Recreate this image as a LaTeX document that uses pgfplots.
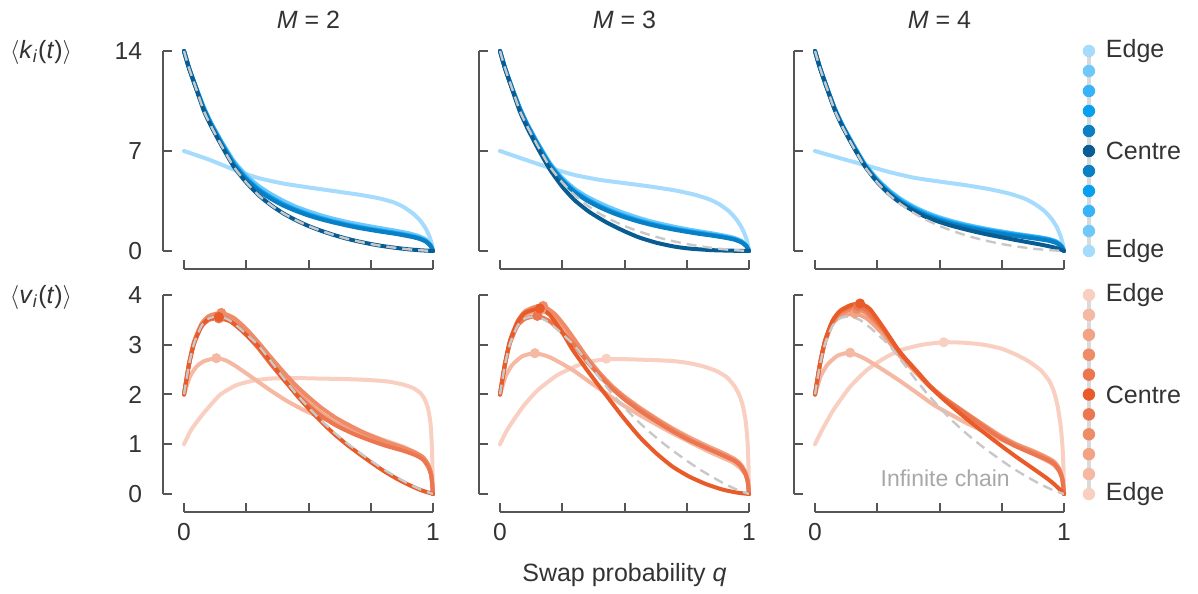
\documentclass[border=0pt]{standalone}
\usepackage{pgfplots}
\pgfplotsset{compat=1.18}
\usepackage{fontspec}
\setmainfont{Liberation Sans}
\definecolor{b0}{HTML}{A5DBFC}
\definecolor{b1}{HTML}{6EC8FB}
\definecolor{b2}{HTML}{38B2F8}
\definecolor{b3}{HTML}{05A0F2}
\definecolor{b4}{HTML}{0A7FC4}
\definecolor{b5}{HTML}{075C94}
\definecolor{o0}{HTML}{F8CFC0}
\definecolor{o1}{HTML}{F5B8A2}
\definecolor{o2}{HTML}{F2A285}
\definecolor{o3}{HTML}{EF8C68}
\definecolor{o4}{HTML}{EC7650}
\definecolor{o5}{HTML}{E95B28}
\definecolor{txt}{HTML}{333333}
\definecolor{spn}{HTML}{555555}
\definecolor{infc}{HTML}{C8C8C8}
\definecolor{lgl}{HTML}{DADADA}
\definecolor{ilab}{HTML}{A8A8A8}
\pgfplotsset{
 panel/.style={scale only axis, width=124.5pt, hide axis, xmin=0, xmax=1, clip=false, anchor=south west},
 ktop/.style={panel, height=100pt, ymin=0, ymax=14},
 vbot/.style={panel, height=99.5pt, ymin=0, ymax=4},
 cv/.style={line width=2pt, no markers, smooth, tension=0.35, line join=round, line cap=round},
 inf/.style={line width=1.2pt, no markers, color=infc, dash pattern=on 5pt off 3pt, smooth, tension=0.35},
 pk/.style={only marks, mark=*, mark size=2.3pt},
 lgd/.style={only marks, mark=*, mark size=2.9pt},
}
\tikzset{lab/.style={text=txt, font=\fontsize{12.5}{15}\selectfont},
 tl/.style={text=txt, font=\fontsize{12.3}{14}\selectfont}}
\begin{document}
\begin{tikzpicture}
\path (0,0) rectangle (599pt,296pt);
% spines and ticks
\foreach \ox in {92,250,407.5}{
 \draw[spn, line width=1pt] ({\ox pt-10.5pt},170.5pt) -- ({\ox pt-10.5pt},270.5pt);
 \foreach \ty in {0,50,100} \draw[spn, line width=1pt] ({\ox pt-10.5pt},{170.5pt+\ty pt}) -- ({\ox pt-6pt},{170.5pt+\ty pt});
 \draw[spn, line width=1pt] (\ox pt,161.5pt) -- ({\ox pt+124.5pt},161.5pt);
 \foreach \tx in {0,31.125,62.25,93.375,124.5} \draw[spn,line width=1pt] ({\ox pt+\tx pt},161.5pt) -- ({\ox pt+\tx pt},166pt);
 \draw[spn, line width=1pt] ({\ox pt-10.5pt},49pt) -- ({\ox pt-10.5pt},148.5pt);
 \foreach \ty in {0,24.875,49.75,74.625,99.5} \draw[spn, line width=1pt] ({\ox pt-10.5pt},{49pt+\ty pt}) -- ({\ox pt-6pt},{49pt+\ty pt});
 \draw[spn, line width=1pt] (\ox pt,40pt) -- ({\ox pt+124.5pt},40pt);
 \foreach \tx in {0,31.125,62.25,93.375,124.5} \draw[spn,line width=1pt] ({\ox pt+\tx pt},40pt) -- ({\ox pt+\tx pt},44.5pt);
}
% tick labels
\node[tl, anchor=east] at (74.5pt,170.5pt) {0};
\node[tl, anchor=east] at (74.5pt,220.5pt) {7};
\node[tl, anchor=east] at (74.5pt,270.5pt) {14};
\node[tl, anchor=east] at (74.5pt,49pt) {0};
\node[tl, anchor=east] at (74.5pt,73.875pt) {1};
\node[tl, anchor=east] at (74.5pt,98.75pt) {2};
\node[tl, anchor=east] at (74.5pt,123.625pt) {3};
\node[tl, anchor=east] at (74.5pt,148.5pt) {4};
\node[tl] at (92pt,30pt) {0};
\node[tl] at (216.5pt,30pt) {1};
\node[tl] at (250pt,30pt) {0};
\node[tl] at (374.5pt,30pt) {1};
\node[tl] at (407.5pt,30pt) {0};
\node[tl] at (532pt,30pt) {1};
% titles and labels
\node[lab] at (154.25pt,286pt) {\textit{M} = 2};
\node[lab] at (312.25pt,286pt) {\textit{M} = 3};
\node[lab] at (469.75pt,286pt) {\textit{M} = 4};
\node[lab] at (20.5pt,270pt) {$\langle$\textit{k}\textsubscript{\textit{i}}(\textit{t})$\rangle$};
\node[lab] at (20.5pt,147.5pt) {$\langle$\textit{v}\textsubscript{\textit{i}}(\textit{t})$\rangle$};
\node[lab] at (312.25pt,8.5pt) {Swap probability \textit{q}};

% ---------------- top M=2
\begin{axis}[ktop, at={(92pt,170.5pt)}]
\addplot[cv, b0] coordinates {(0,7.0) (0.1,6.4) (0.2,5.7) (0.3,5.1) (0.4,4.72) (0.5,4.45) (0.6,4.2) (0.7,3.95) (0.78,3.7) (0.84,3.42) (0.88,3.1) (0.92,2.62) (0.95,2.1) (0.97,1.6) (0.985,1.05) (0.995,0.5) (1,0)};
\addplot[cv, b1] coordinates {(0,14) (0.02,12.85) (0.05,11.4) (0.08,10.05) (0.11,8.95) (0.15,7.7) (0.2,6.3) (0.25,5.3) (0.3,4.55) (0.35,3.98) (0.4,3.5) (0.45,3.1) (0.5,2.78) (0.55,2.5) (0.6,2.26) (0.65,2.05) (0.7,1.88) (0.75,1.72) (0.8,1.57) (0.85,1.42) (0.9,1.25) (0.94,1.06) (0.97,0.82) (0.99,0.45) (1,0)};
\addplot[cv, b2] coordinates {(0,14) (0.02,12.83) (0.05,11.37) (0.08,10.0) (0.11,8.9) (0.15,7.62) (0.2,6.18) (0.25,5.14) (0.3,4.36) (0.35,3.78) (0.4,3.3) (0.45,2.92) (0.5,2.6) (0.55,2.33) (0.6,2.1) (0.65,1.9) (0.7,1.72) (0.75,1.56) (0.8,1.42) (0.85,1.28) (0.9,1.12) (0.94,0.95) (0.97,0.73) (0.99,0.4) (1,0)};
\addplot[cv, b3] coordinates {(0,14) (0.02,12.82) (0.05,11.35) (0.08,9.97) (0.11,8.86) (0.15,7.58) (0.2,6.12) (0.25,5.08) (0.3,4.3) (0.35,3.72) (0.4,3.25) (0.45,2.87) (0.5,2.55) (0.55,2.28) (0.6,2.05) (0.65,1.85) (0.7,1.67) (0.75,1.52) (0.8,1.38) (0.85,1.24) (0.9,1.08) (0.94,0.92) (0.97,0.7) (0.99,0.38) (1,0)};
\addplot[cv, b4] coordinates {(0,14) (0.02,12.81) (0.05,11.33) (0.08,9.93) (0.11,8.8) (0.15,7.52) (0.2,6.05) (0.25,5.0) (0.3,4.22) (0.35,3.64) (0.4,3.17) (0.45,2.8) (0.5,2.48) (0.55,2.22) (0.6,2.0) (0.65,1.8) (0.7,1.62) (0.75,1.47) (0.8,1.33) (0.85,1.2) (0.9,1.04) (0.94,0.88) (0.97,0.67) (0.99,0.36) (1,0)};
\addplot[cv, b5] coordinates {(0,14) (0.02,12.8) (0.05,11.3) (0.08,9.8) (0.11,8.7) (0.15,7.4) (0.2,5.9) (0.25,4.8) (0.3,3.9) (0.35,3.2) (0.4,2.62) (0.45,2.15) (0.5,1.75) (0.55,1.42) (0.6,1.13) (0.65,0.88) (0.7,0.67) (0.75,0.49) (0.8,0.34) (0.85,0.22) (0.9,0.12) (0.95,0.05) (1,0)};
\addplot[inf] coordinates {(0,14) (0.02,12.8) (0.05,11.3) (0.08,9.8) (0.11,8.7) (0.15,7.4) (0.2,5.9) (0.25,4.8) (0.3,3.9) (0.35,3.2) (0.4,2.62) (0.45,2.15) (0.5,1.75) (0.55,1.42) (0.6,1.13) (0.65,0.88) (0.7,0.67) (0.75,0.49) (0.8,0.34) (0.85,0.22) (0.9,0.12) (0.95,0.05) (1,0)};
\end{axis}

% ---------------- top M=3
\begin{axis}[ktop, at={(250pt,170.5pt)}]
\addplot[cv, b0] coordinates {(0,7.0) (0.1,6.4) (0.2,5.82) (0.3,5.32) (0.4,4.98) (0.5,4.75) (0.6,4.52) (0.7,4.25) (0.78,3.95) (0.84,3.62) (0.88,3.28) (0.92,2.78) (0.95,2.2) (0.97,1.65) (0.985,1.08) (0.995,0.5) (1,0)};
\addplot[cv, b1] coordinates {(0,14) (0.02,12.84) (0.05,11.38) (0.08,10.02) (0.11,8.9) (0.15,7.62) (0.2,6.18) (0.25,5.12) (0.3,4.35) (0.35,3.8) (0.4,3.36) (0.45,2.98) (0.5,2.65) (0.55,2.36) (0.6,2.1) (0.65,1.89) (0.7,1.7) (0.75,1.53) (0.8,1.38) (0.85,1.24) (0.9,1.08) (0.94,0.92) (0.97,0.7) (0.99,0.38) (1,0)};
\addplot[cv, b2] coordinates {(0,14) (0.02,12.83) (0.05,11.35) (0.08,9.98) (0.11,8.85) (0.15,7.56) (0.2,6.1) (0.25,5.02) (0.3,4.22) (0.35,3.64) (0.4,3.18) (0.45,2.8) (0.5,2.48) (0.55,2.2) (0.6,1.96) (0.65,1.76) (0.7,1.58) (0.75,1.43) (0.8,1.29) (0.85,1.16) (0.9,1.01) (0.94,0.86) (0.97,0.65) (0.99,0.35) (1,0)};
\addplot[cv, b3] coordinates {(0,14) (0.02,12.82) (0.05,11.33) (0.08,9.95) (0.11,8.82) (0.15,7.52) (0.2,6.05) (0.25,4.97) (0.3,4.17) (0.35,3.59) (0.4,3.13) (0.45,2.75) (0.5,2.43) (0.55,2.15) (0.6,1.92) (0.65,1.72) (0.7,1.54) (0.75,1.39) (0.8,1.25) (0.85,1.12) (0.9,0.98) (0.94,0.83) (0.97,0.63) (0.99,0.34) (1,0)};
\addplot[cv, b4] coordinates {(0,14) (0.02,12.81) (0.05,11.31) (0.08,9.92) (0.11,8.78) (0.15,7.47) (0.2,6.0) (0.25,4.91) (0.3,4.1) (0.35,3.52) (0.4,3.06) (0.45,2.68) (0.5,2.36) (0.55,2.09) (0.6,1.86) (0.65,1.66) (0.7,1.49) (0.75,1.34) (0.8,1.2) (0.85,1.08) (0.9,0.94) (0.94,0.8) (0.97,0.6) (0.99,0.32) (1,0)};
\addplot[cv, b5] coordinates {(0,14) (0.02,12.78) (0.05,11.25) (0.08,9.75) (0.11,8.6) (0.15,7.25) (0.2,5.72) (0.25,4.5) (0.3,3.55) (0.36,2.72) (0.43,1.98) (0.5,1.38) (0.56,0.94) (0.63,0.57) (0.7,0.31) (0.76,0.17) (0.85,0.06) (0.93,0.02) (1,0)};
\addplot[inf] coordinates {(0,14) (0.02,12.8) (0.05,11.3) (0.08,9.8) (0.11,8.7) (0.15,7.4) (0.2,5.9) (0.25,4.8) (0.3,3.9) (0.35,3.2) (0.4,2.62) (0.45,2.15) (0.5,1.75) (0.55,1.42) (0.6,1.13) (0.65,0.88) (0.7,0.67) (0.75,0.49) (0.8,0.34) (0.85,0.22) (0.9,0.12) (0.95,0.05) (1,0)};
\end{axis}

% ---------------- top M=4
\begin{axis}[ktop, at={(407.5pt,170.5pt)}]
\addplot[cv, b0] coordinates {(0,7.0) (0.1,6.5) (0.2,6.02) (0.3,5.52) (0.4,5.12) (0.5,4.86) (0.6,4.62) (0.7,4.33) (0.78,4.02) (0.84,3.68) (0.88,3.32) (0.92,2.82) (0.95,2.25) (0.97,1.7) (0.985,1.1) (0.995,0.5) (1,0)};
\addplot[cv, b1] coordinates {(0,14) (0.02,12.84) (0.05,11.36) (0.08,9.98) (0.11,8.86) (0.15,7.58) (0.2,6.12) (0.25,5.04) (0.3,4.22) (0.35,3.58) (0.4,3.08) (0.45,2.68) (0.5,2.36) (0.55,2.1) (0.6,1.88) (0.65,1.69) (0.7,1.52) (0.75,1.37) (0.8,1.23) (0.85,1.1) (0.9,0.97) (0.94,0.84) (0.97,0.66) (0.99,0.36) (1,0)};
\addplot[cv, b2] coordinates {(0,14) (0.02,12.83) (0.05,11.34) (0.08,9.95) (0.11,8.82) (0.15,7.54) (0.2,6.07) (0.25,4.98) (0.3,4.15) (0.35,3.5) (0.4,3.0) (0.45,2.6) (0.5,2.29) (0.55,2.03) (0.6,1.82) (0.65,1.63) (0.7,1.47) (0.75,1.32) (0.8,1.19) (0.85,1.07) (0.9,0.95) (0.94,0.82) (0.97,0.64) (0.99,0.35) (1,0)};
\addplot[cv, b3] coordinates {(0,14) (0.02,12.82) (0.05,11.32) (0.08,9.92) (0.11,8.79) (0.15,7.5) (0.2,6.02) (0.25,4.92) (0.3,4.08) (0.35,3.43) (0.4,2.93) (0.45,2.53) (0.5,2.22) (0.55,1.97) (0.6,1.76) (0.65,1.58) (0.7,1.42) (0.75,1.28) (0.8,1.15) (0.85,1.03) (0.9,0.91) (0.94,0.79) (0.97,0.62) (0.99,0.34) (1,0)};
\addplot[cv, b4] coordinates {(0,14) (0.02,12.81) (0.05,11.3) (0.08,9.88) (0.11,8.75) (0.15,7.45) (0.2,5.97) (0.25,4.86) (0.3,4.0) (0.35,3.35) (0.4,2.85) (0.45,2.45) (0.5,2.14) (0.55,1.89) (0.6,1.68) (0.65,1.5) (0.7,1.34) (0.75,1.2) (0.8,1.07) (0.85,0.95) (0.9,0.83) (0.94,0.71) (0.97,0.55) (0.99,0.3) (1,0)};
\addplot[cv, b5] coordinates {(0,14) (0.02,12.8) (0.05,11.3) (0.08,9.85) (0.11,8.72) (0.15,7.42) (0.2,5.94) (0.25,4.82) (0.3,3.95) (0.35,3.28) (0.4,2.76) (0.45,2.35) (0.5,2.03) (0.55,1.76) (0.6,1.53) (0.65,1.32) (0.7,1.13) (0.75,0.96) (0.8,0.79) (0.85,0.63) (0.9,0.47) (0.94,0.33) (0.97,0.2) (0.99,0.08) (1,0)};
\addplot[inf] coordinates {(0,14) (0.02,12.8) (0.05,11.3) (0.08,9.8) (0.11,8.7) (0.15,7.4) (0.2,5.9) (0.25,4.8) (0.3,3.9) (0.35,3.2) (0.4,2.62) (0.45,2.15) (0.5,1.75) (0.55,1.42) (0.6,1.13) (0.65,0.88) (0.7,0.67) (0.75,0.49) (0.8,0.34) (0.85,0.22) (0.9,0.12) (0.95,0.05) (1,0)};
% legend
\addplot[lgl, line width=2pt] coordinates {(1.1,0) (1.1,14)};
\addplot[lgd, b0] coordinates {(1.1,14) (1.1,0)};
\addplot[lgd, b1] coordinates {(1.1,12.6) (1.1,1.4)};
\addplot[lgd, b2] coordinates {(1.1,11.2) (1.1,2.8)};
\addplot[lgd, b3] coordinates {(1.1,9.8) (1.1,4.2)};
\addplot[lgd, b4] coordinates {(1.1,8.4) (1.1,5.6)};
\addplot[lgd, b5] coordinates {(1.1,7.0)};
\node[lab, anchor=west] at (axis cs:1.14,14) {Edge};
\node[lab, anchor=west] at (axis cs:1.14,7) {Centre};
\node[lab, anchor=west] at (axis cs:1.14,0) {Edge};
\end{axis}

% ---------------- bottom M=2
\begin{axis}[vbot, at={(92pt,49pt)}]
\addplot[cv, o0] coordinates {(0,1.0) (0.03,1.3) (0.078,1.62) (0.144,1.99) (0.211,2.19) (0.28,2.28) (0.345,2.32) (0.45,2.33) (0.545,2.32) (0.65,2.31) (0.746,2.29) (0.82,2.26) (0.88,2.2) (0.92,2.13) (0.947,2.04) (0.965,1.92) (0.98,1.72) (0.99,1.42) (0.996,0.9) (1,0)};
\addplot[cv, o1] coordinates {(0,2.0) (0.024,2.36) (0.05,2.56) (0.08,2.67) (0.13,2.73) (0.17,2.68) (0.211,2.56) (0.28,2.32) (0.345,2.09) (0.41,1.88) (0.48,1.69) (0.545,1.55) (0.61,1.42) (0.68,1.3) (0.746,1.19) (0.81,1.07) (0.88,0.95) (0.93,0.83) (0.96,0.72) (0.98,0.58) (0.993,0.38) (1,0)};
\addplot[cv, o2] coordinates {(0,2.0) (0.02,2.61) (0.04,3.04) (0.07,3.39) (0.1,3.53) (0.145,3.58) (0.19,3.5) (0.25,3.25) (0.3,2.97) (0.35,2.66) (0.4,2.36) (0.45,2.08) (0.5,1.84) (0.55,1.63) (0.61,1.43) (0.68,1.26) (0.746,1.12) (0.81,1.0) (0.88,0.89) (0.93,0.8) (0.96,0.71) (0.98,0.57) (0.993,0.38) (1,0)};
\addplot[cv, o3] coordinates {(0,2.0) (0.02,2.62) (0.04,3.06) (0.07,3.42) (0.1,3.58) (0.15,3.64) (0.2,3.54) (0.25,3.32) (0.3,3.04) (0.35,2.74) (0.4,2.45) (0.45,2.18) (0.5,1.95) (0.55,1.74) (0.61,1.53) (0.68,1.34) (0.746,1.18) (0.81,1.05) (0.88,0.93) (0.93,0.83) (0.96,0.74) (0.98,0.6) (0.993,0.4) (1,0)};
\addplot[cv, o4] coordinates {(0,2.0) (0.02,2.6) (0.04,3.02) (0.07,3.36) (0.1,3.5) (0.14,3.53) (0.19,3.46) (0.25,3.2) (0.3,2.92) (0.35,2.6) (0.4,2.3) (0.45,2.02) (0.5,1.78) (0.55,1.57) (0.61,1.38) (0.68,1.21) (0.746,1.08) (0.81,0.97) (0.88,0.87) (0.93,0.78) (0.96,0.69) (0.98,0.55) (0.993,0.37) (1,0)};
\addplot[cv, o5] coordinates {(0,2.0) (0.02,2.6) (0.04,3.02) (0.07,3.38) (0.1,3.52) (0.14,3.56) (0.18,3.49) (0.22,3.34) (0.26,3.15) (0.3,2.96) (0.35,2.64) (0.4,2.31) (0.45,2.0) (0.5,1.72) (0.55,1.46) (0.6,1.22) (0.65,1.01) (0.7,0.82) (0.75,0.64) (0.8,0.47) (0.85,0.32) (0.9,0.19) (0.95,0.08) (1,0)};
\addplot[inf] coordinates {(0,2.0) (0.02,2.6) (0.04,3.02) (0.07,3.38) (0.1,3.53) (0.14,3.57) (0.18,3.5) (0.22,3.35) (0.26,3.17) (0.3,2.98) (0.35,2.66) (0.4,2.33) (0.45,2.02) (0.5,1.74) (0.55,1.48) (0.6,1.25) (0.65,1.04) (0.7,0.85) (0.75,0.67) (0.8,0.5) (0.85,0.35) (0.9,0.21) (0.95,0.09) (1,0)};
\addplot[pk, o1] coordinates {(0.13,2.73)};
\addplot[pk, o2] coordinates {(0.145,3.58)};
\addplot[pk, o3] coordinates {(0.15,3.64)};
\addplot[pk, o4] coordinates {(0.14,3.53)};
\addplot[pk, o5] coordinates {(0.14,3.56)};
\end{axis}

% ---------------- bottom M=3
\begin{axis}[vbot, at={(250pt,49pt)}]
\addplot[cv, o0] coordinates {(0,1.0) (0.03,1.3) (0.093,1.76) (0.15,2.08) (0.227,2.38) (0.3,2.56) (0.36,2.66) (0.427,2.71) (0.5,2.71) (0.627,2.69) (0.7,2.67) (0.76,2.63) (0.82,2.56) (0.87,2.47) (0.91,2.35) (0.94,2.18) (0.96,2.0) (0.975,1.78) (0.987,1.45) (0.994,1.05) (0.998,0.55) (1,0)};
\addplot[cv, o1] coordinates {(0,2.0) (0.024,2.38) (0.05,2.6) (0.09,2.77) (0.14,2.83) (0.2,2.75) (0.293,2.49) (0.36,2.25) (0.427,2.02) (0.49,1.8) (0.56,1.59) (0.627,1.4) (0.693,1.22) (0.76,1.05) (0.827,0.88) (0.88,0.76) (0.933,0.64) (0.965,0.52) (0.987,0.38) (0.997,0.2) (1,0)};
\addplot[cv, o2] coordinates {(0,2.0) (0.02,2.61) (0.04,3.05) (0.07,3.43) (0.1,3.6) (0.14,3.68) (0.165,3.7) (0.22,3.55) (0.26,3.32) (0.3,3.06) (0.35,2.72) (0.4,2.43) (0.45,2.17) (0.5,1.96) (0.56,1.74) (0.627,1.52) (0.693,1.32) (0.76,1.14) (0.83,0.97) (0.893,0.83) (0.94,0.71) (0.965,0.61) (0.985,0.45) (0.995,0.27) (1,0)};
\addplot[cv, o3] coordinates {(0,2.0) (0.02,2.62) (0.04,3.07) (0.07,3.47) (0.1,3.67) (0.14,3.76) (0.173,3.78) (0.22,3.62) (0.26,3.38) (0.3,3.1) (0.35,2.74) (0.4,2.43) (0.45,2.16) (0.5,1.94) (0.56,1.72) (0.627,1.5) (0.693,1.29) (0.76,1.1) (0.83,0.93) (0.893,0.79) (0.94,0.68) (0.965,0.58) (0.985,0.42) (0.995,0.25) (1,0)};
\addplot[cv, o4] coordinates {(0,2.0) (0.02,2.6) (0.04,3.03) (0.07,3.38) (0.1,3.52) (0.15,3.58) (0.2,3.47) (0.26,3.2) (0.3,2.98) (0.35,2.66) (0.4,2.38) (0.45,2.12) (0.5,1.9) (0.56,1.68) (0.627,1.46) (0.693,1.26) (0.76,1.08) (0.83,0.92) (0.893,0.78) (0.94,0.67) (0.965,0.57) (0.985,0.41) (0.995,0.24) (1,0)};
\addplot[cv, o5] coordinates {(0,2.0) (0.02,2.62) (0.04,3.08) (0.07,3.45) (0.1,3.64) (0.16,3.73) (0.2,3.6) (0.25,3.25) (0.293,2.89) (0.36,2.42) (0.427,1.98) (0.493,1.55) (0.56,1.15) (0.627,0.82) (0.693,0.55) (0.76,0.35) (0.827,0.2) (0.893,0.09) (0.95,0.03) (1,0)};
\addplot[inf] coordinates {(0,2.0) (0.02,2.6) (0.04,3.02) (0.07,3.38) (0.1,3.53) (0.14,3.57) (0.18,3.5) (0.22,3.35) (0.26,3.17) (0.3,2.98) (0.35,2.66) (0.4,2.33) (0.45,2.02) (0.5,1.74) (0.55,1.48) (0.6,1.25) (0.65,1.04) (0.7,0.85) (0.75,0.67) (0.8,0.5) (0.85,0.35) (0.9,0.21) (0.95,0.09) (1,0)};
\addplot[pk, o0] coordinates {(0.427,2.72)};
\addplot[pk, o1] coordinates {(0.14,2.83)};
\addplot[pk, o2] coordinates {(0.165,3.7)};
\addplot[pk, o3] coordinates {(0.173,3.78)};
\addplot[pk, o4] coordinates {(0.15,3.58)};
\addplot[pk, o5] coordinates {(0.16,3.73)};
\end{axis}

% ---------------- bottom M=4
\begin{axis}[vbot, at={(407.5pt,49pt)}]
\addplot[cv, o0] coordinates {(0,1.0) (0.03,1.3) (0.074,1.69) (0.14,2.15) (0.208,2.49) (0.275,2.72) (0.342,2.89) (0.43,3.0) (0.517,3.05) (0.6,3.04) (0.678,3.0) (0.75,2.92) (0.812,2.79) (0.86,2.66) (0.906,2.49) (0.94,2.28) (0.96,2.05) (0.975,1.75) (0.987,1.35) (0.994,0.95) (0.998,0.5) (1,0)};
\addplot[cv, o1] coordinates {(0,2.0) (0.024,2.38) (0.05,2.6) (0.09,2.78) (0.141,2.84) (0.2,2.72) (0.275,2.49) (0.342,2.27) (0.41,2.03) (0.477,1.79) (0.544,1.6) (0.61,1.42) (0.678,1.26) (0.745,1.1) (0.812,0.95) (0.879,0.8) (0.93,0.67) (0.96,0.58) (0.98,0.46) (0.993,0.3) (1,0)};
\addplot[cv, o2] coordinates {(0,2.0) (0.02,2.6) (0.04,3.04) (0.07,3.42) (0.1,3.56) (0.16,3.63) (0.21,3.52) (0.275,3.2) (0.34,2.78) (0.409,2.42) (0.46,2.16) (0.517,1.93) (0.611,1.61) (0.68,1.38) (0.745,1.17) (0.81,1.0) (0.879,0.86) (0.93,0.74) (0.96,0.65) (0.98,0.52) (0.993,0.33) (1,0)};
\addplot[cv, o3] coordinates {(0,2.0) (0.02,2.61) (0.04,3.06) (0.07,3.45) (0.1,3.62) (0.14,3.7) (0.168,3.72) (0.21,3.62) (0.275,3.28) (0.34,2.83) (0.409,2.46) (0.46,2.18) (0.517,1.94) (0.611,1.61) (0.68,1.37) (0.745,1.15) (0.81,0.98) (0.879,0.84) (0.93,0.72) (0.96,0.63) (0.98,0.5) (0.993,0.32) (1,0)};
\addplot[cv, o4] coordinates {(0,2.0) (0.02,2.62) (0.04,3.07) (0.07,3.47) (0.1,3.66) (0.14,3.75) (0.173,3.78) (0.21,3.68) (0.275,3.31) (0.34,2.85) (0.409,2.47) (0.46,2.18) (0.517,1.93) (0.611,1.59) (0.68,1.34) (0.745,1.12) (0.81,0.95) (0.879,0.8) (0.93,0.69) (0.96,0.6) (0.98,0.47) (0.993,0.3) (1,0)};
\addplot[cv, o5] coordinates {(0,2.0) (0.02,2.62) (0.04,3.08) (0.07,3.48) (0.1,3.68) (0.14,3.79) (0.181,3.83) (0.22,3.72) (0.275,3.34) (0.34,2.86) (0.409,2.46) (0.46,2.17) (0.517,1.9) (0.611,1.5) (0.68,1.23) (0.745,0.98) (0.81,0.74) (0.879,0.5) (0.93,0.32) (0.96,0.2) (0.985,0.08) (1,0)};
\addplot[inf] coordinates {(0,2.0) (0.02,2.6) (0.04,3.02) (0.07,3.38) (0.1,3.53) (0.14,3.57) (0.18,3.5) (0.22,3.35) (0.26,3.17) (0.3,2.98) (0.35,2.66) (0.4,2.33) (0.45,2.02) (0.5,1.74) (0.55,1.48) (0.6,1.25) (0.65,1.04) (0.7,0.85) (0.75,0.67) (0.8,0.5) (0.85,0.35) (0.9,0.21) (0.95,0.09) (1,0)};
\addplot[pk, o0] coordinates {(0.517,3.05)};
\addplot[pk, o1] coordinates {(0.141,2.84)};
\addplot[pk, o2] coordinates {(0.16,3.63)};
\addplot[pk, o3] coordinates {(0.168,3.72)};
\addplot[pk, o4] coordinates {(0.173,3.78)};
\addplot[pk, o5] coordinates {(0.181,3.83)};
\node[text=ilab, font=\fontsize{11.5}{14}\selectfont] at (axis cs:0.523,0.32) {Infinite chain};
% legend
\addplot[lgl, line width=2pt] coordinates {(1.1,0) (1.1,4)};
\addplot[lgd, o0] coordinates {(1.1,4) (1.1,0)};
\addplot[lgd, o1] coordinates {(1.1,3.6) (1.1,0.4)};
\addplot[lgd, o2] coordinates {(1.1,3.2) (1.1,0.8)};
\addplot[lgd, o3] coordinates {(1.1,2.8) (1.1,1.2)};
\addplot[lgd, o4] coordinates {(1.1,2.4) (1.1,1.6)};
\addplot[lgd, o5] coordinates {(1.1,2.0)};
\node[lab, anchor=west] at (axis cs:1.14,4) {Edge};
\node[lab, anchor=west] at (axis cs:1.14,2) {Centre};
\node[lab, anchor=west] at (axis cs:1.14,0) {Edge};
\end{axis}
\end{tikzpicture}
\end{document}
